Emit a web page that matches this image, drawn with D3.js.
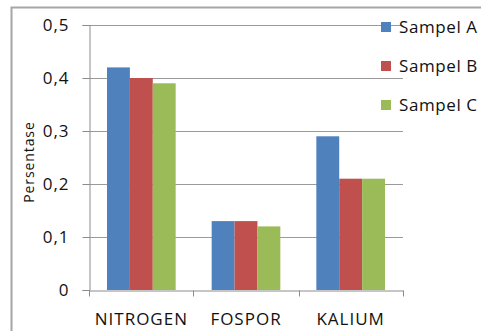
<!DOCTYPE html>
<html>
<head>
<meta charset="utf-8">
<script src="https://cdn.jsdelivr.net/npm/d3@7"></script>
<style>
  body { margin: 0; background: #fff; }
  text { font-family: "Open Sans", sans-serif; fill: #111; }
</style>
</head>
<body>
<div id="chart"></div>
<script>
var categories = ["NITROGEN", "FOSPOR", "KALIUM"]
var series = ["Sampel A", "Sampel B", "Sampel C"]
var values = {
    "Sampel A": [0.42, 0.13, 0.29],
    "Sampel B": [0.40, 0.13, 0.21],
    "Sampel C": [0.39, 0.12, 0.21]
}
var yTicks = [0, 0.1, 0.2, 0.3, 0.4, 0.5]
var colors = ["#4f81bd", "#c0504d", "#9bbb59"]

var width = 481, height = 331
var locale = d3.formatLocale({decimal: ",", thousands: ".", grouping: [3], currency: ["", ""]})
var fmt = function(d) { return d === 0 ? "0" : locale.format(".1f")(d) }

var svg = d3.select("#chart").append("svg")
    .attr("width", width)
    .attr("height", height)

// outer frame (only top and left are visible)
svg.append("path")
    .attr("d", "M11.5," + height + "V7.5H" + width)
    .attr("fill", "none")
    .attr("stroke", "#a6a6a6")
    .attr("stroke-width", 2)

var x = d3.scaleBand().domain(categories).range([89, 403])
var xSub = d3.scaleBand().domain(series).range([18, x.bandwidth() - 18])
var y = d3.scaleLinear().domain([0, 0.5]).range([290, 25])
var color = d3.scaleOrdinal().domain(series).range(colors)

// gridlines
svg.append("g").selectAll("line")
    .data(yTicks.slice(1))
    .enter().append("line")
    .attr("x1", 89).attr("x2", 403)
    .attr("y1", function(d) { return Math.round(y(d)) + 0.5 })
    .attr("y2", function(d) { return Math.round(y(d)) + 0.5 })
    .attr("stroke", "#9a9a9a")

// bars
var groups = svg.append("g").selectAll(".group")
    .data(categories)
    .enter().append("g")
    .attr("transform", function(d) { return "translate(" + x(d) + ",0)" })

groups.selectAll("rect")
    .data(function(c, i) { return series.map(function(s) { return {s: s, v: values[s][i]} }) })
    .enter().append("rect")
    .attr("x", function(d) { return xSub(d.s) })
    .attr("width", xSub.bandwidth())
    .attr("y", function(d) { return y(d.v) })
    .attr("height", function(d) { return y(0) - y(d.v) })
    .attr("fill", function(d) { return color(d.s) })

// y axis
var yAxis = d3.axisLeft(y).tickValues(yTicks).tickFormat(fmt).tickSize(7).tickPadding(13)
var yg = svg.append("g").attr("transform", "translate(89.5,0)").call(yAxis)
yg.select(".domain").attr("stroke", "#8c8c8c")
yg.selectAll(".tick line").attr("stroke", "#8c8c8c")
yg.selectAll(".tick text").style("font-size", "17px").style("letter-spacing", "1px").attr("fill", "#111")

// x axis
var xAxis = d3.axisBottom(x).tickSize(0).tickPadding(22)
var xg = svg.append("g").attr("transform", "translate(0,290.5)").call(xAxis)
xg.select(".domain").attr("stroke", "#8c8c8c")
xg.selectAll(".tick text").style("font-size", "17px").style("letter-spacing", "1px").attr("fill", "#111")
xg.selectAll(".sep")
    .data([89, 193, 299, 403])
    .enter().append("line")
    .attr("x1", function(d) { return d + 0.5 }).attr("x2", function(d) { return d + 0.5 })
    .attr("y1", 0).attr("y2", 6)
    .attr("stroke", "#8c8c8c")

// y title
svg.append("text")
    .attr("transform", "translate(34,162) rotate(-90)")
    .attr("text-anchor", "middle")
    .style("font-size", "14px")
    .style("letter-spacing", "0.9px")
    .text("Persentase")

// legend
var legend = svg.append("g").selectAll(".legend")
    .data(series)
    .enter().append("g")
    .attr("transform", function(d, i) { return "translate(381," + (27 + i * 39) + ")" })

legend.append("rect")
    .attr("x", 0).attr("y", -5)
    .attr("width", 10).attr("height", 10)
    .attr("fill", function(d) { return color(d) })

legend.append("text")
    .attr("x", 18).attr("dy", "0.35em")
    .style("font-size", "17px")
    .style("letter-spacing", "0.6px")
    .text(function(d) { return d })
</script>
</body>
</html>
